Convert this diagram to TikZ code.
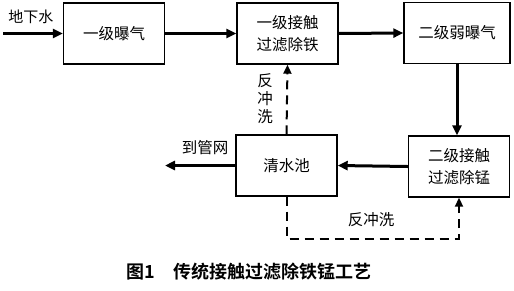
\documentclass[tikz,border=0pt]{standalone}
\usepackage{fontspec}
\usepackage{tikz}
\usetikzlibrary{arrows.meta,positioning,calc}
\newfontfamily\cjk{Noto Sans CJK SC}
\newfontfamily\cjkbold{Noto Sans CJK SC Bold}

\begin{document}
\begin{tikzpicture}[
  x=1pt, y=-1pt,
  every node/.style={font=\cjk\fontsize{15.5}{22}\selectfont},
  proc/.style={rectangle, draw=black, line width=1.4pt, fill=white,
               minimum width=101pt, minimum height=61pt, align=center, inner sep=2pt},
  arr/.style={-{Triangle[length=10pt,width=9pt]}, line width=3pt},
  darr/.style={-{Triangle[length=9pt,width=8pt]}, line width=2pt, dash pattern=on 9pt off 6pt},
]
\useasboundingbox (0,0) rectangle (514,290);

%% - Process boxes -
\node[proc] (aer1)  at (114.0, 33.5) {一级曝气};
\node[proc] (filt1) at (287.5, 33.5) {一级接触\\过滤除铁};
\node[proc, minimum width=106pt] (aer2) at (457.0, 33.0) {二级弱曝气};
\node[proc] (pool)  at (286.5,165.5) {清水池};
\node[proc] (filt2) at (459.0,166.5) {二级接触\\过滤除锰};

%% - Free ends -
\coordinate (inlet)  at (3,33.5);
\coordinate (outlet) at (165,165.5);

%% - Main flow -
\draw[arr] (inlet) -- (aer1.west);
\draw[arr] (aer1.east) -- (filt1.west);
\draw[arr] (filt1.east) -- (aer2.west);
\draw[arr] (aer2.south) -- (aer2.south |- filt2.north);
\draw[arr] (filt2.west) -- (pool.east);
\draw[arr] (pool.west) -- (outlet);

%% - Backwash (dashed) -
\draw[darr] (pool.north) -- (filt1.south);
\draw[darr] (pool.south) -- ++(0,42) -| (filt2.south);

%% - Labels -
\node[font=\cjk\fontsize{15}{18}\selectfont] (lbin) at ( 31,17) {地下水};
\node (lbout) at (205,148) {到管网};
\node[align=center, font=\cjk\fontsize{15.5}{18}\selectfont] (lbbw1) at (265,99) {反\\冲\\洗};
\node (lbbw2) at (371,220) {反冲洗};

%% - Caption -
\node[font=\cjkbold\fontsize{18}{20}\selectfont] (cap) at (249,272) {图1\quad 传统接触过滤除铁锰工艺};

\end{tikzpicture}
\end{document}
